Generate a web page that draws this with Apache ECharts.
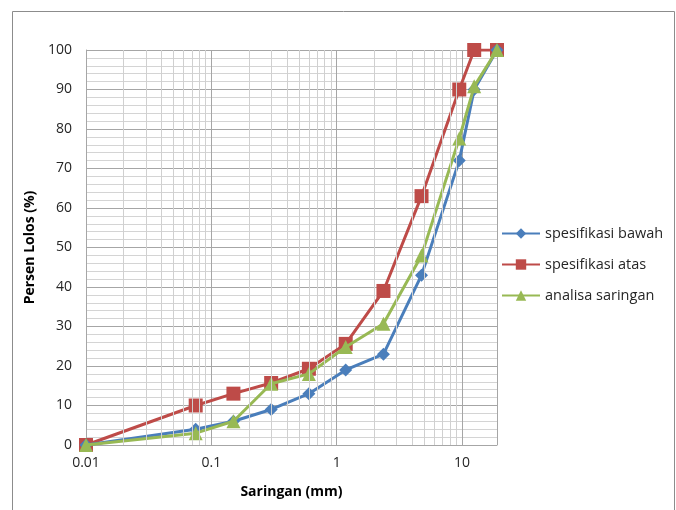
<!DOCTYPE html>
<html>
<head>
<meta charset="utf-8">
<script src="https://cdn.jsdelivr.net/npm/echarts@6/dist/echarts.min.js"></script>
<style>
  html, body { margin: 0; padding: 0; background: #fff; }
  #chart { width: 676px; height: 510px; }
</style>
</head>
<body>
<div id="chart"></div>
<script>
// ukuran saringan (mm)
const sieves = [0.01, 0.075, 0.15, 0.3, 0.6, 1.18, 2.36, 4.75, 9.5, 12.5, 19]
const bawah = [0, 4, 6, 9, 13, 19, 23, 43, 72, 90, 100]
const atas = [0, 10, 13, 15.7, 19.3, 25.6, 39, 63, 90, 100, 100]
const analisa = [0, 3, 6, 15.5, 18, 24.8, 30.7, 48, 77.6, 90.8, 100]

const FONT = 'Open Sans'

// garis bantu log: 2..9 tiap dekade
const minorX = []
for (let e = -2; e <= 0; e++) {
  for (let m = 2; m <= 9; m++) minorX.push(+(m * Math.pow(10, e)).toPrecision(2))
}

function pairs (ys) {
  return sieves.map((x, i) => [x, ys[i]])
}

const chart = echarts.init(document.getElementById('chart'))
chart.setOption({
  animation: false,
  backgroundColor: '#fff',
  graphic: [{
    type: 'rect',
    shape: { x: 12.5, y: 11.5, width: 662, height: 520 },
    style: { fill: 'none', stroke: '#8c8c8c', lineWidth: 1 },
    silent: true
  }],
  grid: { left: 86, right: 179, top: 50, bottom: 65 },
  legend: {
    orient: 'vertical',
    left: 496,
    top: 221,
    itemGap: 16,
    itemWidth: 38,
    itemHeight: 13,
    textStyle: { fontFamily: FONT, fontSize: 14.5, color: '#262626' },
    data: ['spesifikasi bawah', 'spesifikasi atas', 'analisa saringan']
  },
  xAxis: {
    type: 'log',
    logBase: 10,
    min: 0.01,
    max: 19,
    name: 'Saringan (mm)',
    nameLocation: 'middle',
    nameGap: 40,
    nameTextStyle: { fontFamily: FONT, fontSize: 14, fontWeight: 'bold', color: '#000' },
    axisLine: { show: true, lineStyle: { color: '#a6a6a6' } },
    axisTick: { show: false },
    axisLabel: {
      fontFamily: FONT, fontSize: 14, color: '#262626', margin: 11,
      formatter: v => {
        const l = Math.log10(v)
        return Math.abs(l - Math.round(l)) < 1e-6 ? String(+v.toPrecision(1)) : ''
      }
    },
    splitLine: { show: true, lineStyle: { color: '#a6a6a6', width: 1 } }
  },
  yAxis: {
    type: 'value',
    min: 0,
    max: 100,
    interval: 10,
    name: 'Persen Lolos (%)',
    nameLocation: 'middle',
    nameGap: 47,
    nameTextStyle: { fontFamily: FONT, fontSize: 14, fontWeight: 'bold', color: '#000' },
    axisLine: { show: true, lineStyle: { color: '#a6a6a6' } },
    axisTick: { show: false },
    axisLabel: { fontFamily: FONT, fontSize: 14, color: '#262626', margin: 14 },
    splitLine: { show: true, lineStyle: { color: '#a6a6a6', width: 1 } },
    minorTick: { show: false, splitNumber: 5 },
    minorSplitLine: { show: true, lineStyle: { color: '#d4d4d4', width: 1 } }
  },
  series: [
    {
      name: '_grid',
      type: 'line',
      data: [],
      silent: true,
      z: 1,
      markLine: {
        silent: true,
        symbol: 'none',
        label: { show: false },
        lineStyle: { color: '#d0d0d0', width: 1, type: 'solid' },
        data: minorX.map(x => ({ xAxis: x }))
      }
    },
    {
      name: 'spesifikasi bawah',
      type: 'line',
      data: pairs(bawah),
      symbol: 'diamond',
      symbolSize: 13,
      color: '#4a7ebb',
      itemStyle: { borderWidth: 0 },
      lineStyle: { width: 3 },
      z: 3
    },
    {
      name: 'spesifikasi atas',
      type: 'line',
      data: pairs(atas),
      symbol: 'rect',
      symbolSize: 14,
      color: '#be4b48',
      itemStyle: { borderWidth: 0 },
      lineStyle: { width: 3 },
      z: 2
    },
    {
      name: 'analisa saringan',
      type: 'line',
      data: pairs(analisa),
      symbol: 'triangle',
      symbolSize: 14,
      color: '#98b954',
      itemStyle: { borderWidth: 0 },
      lineStyle: { width: 3 },
      z: 4
    }
  ]
})
</script>
</body>
</html>
